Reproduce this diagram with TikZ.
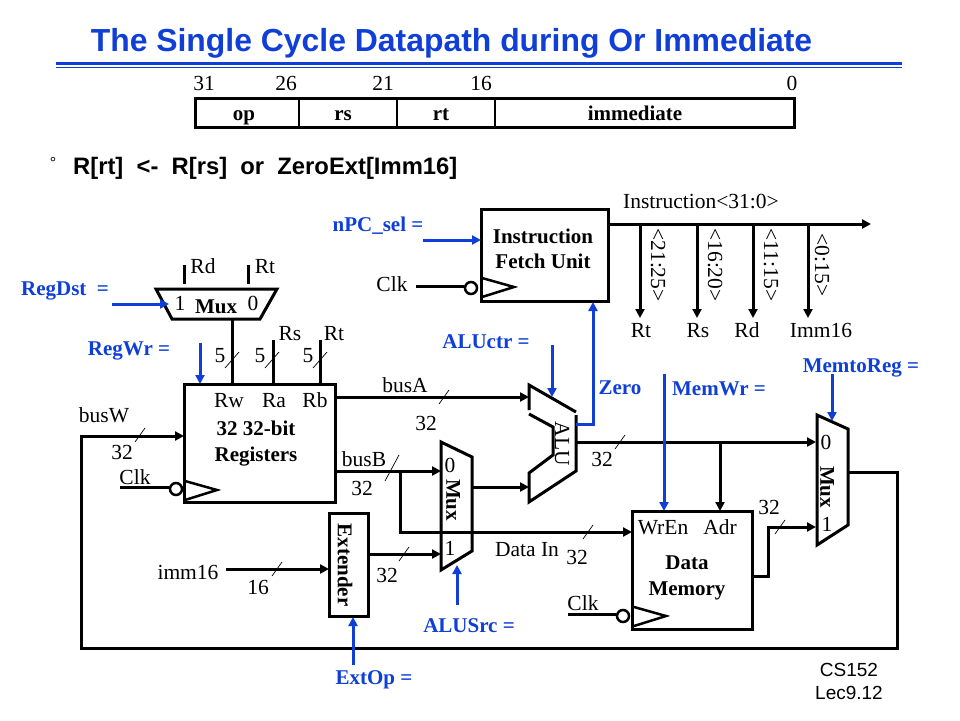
\documentclass[tikz,border=0pt]{standalone}
\usepackage{fontspec}
\setmainfont{Liberation Serif}
\newfontfamily\arialfont{Liberation Sans}
\usetikzlibrary{arrows.meta}
\definecolor{ctrlblue}{HTML}{0F3FD6}
\tikzset{
  lab/.style={font=\fontsize{21.5}{25}\selectfont,inner sep=0pt,text height=18pt,text depth=4pt},
  blab/.style={font=\fontsize{21}{25.5}\selectfont\bfseries,inner sep=0pt,align=center},
  ctrl/.style={blab,text=ctrlblue,text height=18pt,text depth=4pt},
  unitbox/.style={draw,line width=3pt,inner sep=0pt},
  wire/.style={line width=3pt},
  wirearrow/.style={wire,-{Triangle[length=9pt,width=9pt]}},
  ctrlarrow/.style={wire,ctrlblue,-{Triangle[length=9pt,width=9pt]}},
  bubble/.style={circle,draw,line width=2.5pt,minimum size=12pt,inner sep=0pt},
  sideway/.style={rotate=-90}
}
\begin{document}
\begin{tikzpicture}[x=1pt,y=-1pt]
  \useasboundingbox (0,0) rectangle (960,720);
  % heading
  \node[font=\arialfont\bfseries\fontsize{31.9}{34}\selectfont,text=ctrlblue,inner sep=0pt] (title) at (451.5,43.5) {The Single Cycle Datapath during Or Immediate};
  \coordinate (ruleL) at (56,63.5);
  \coordinate (ruleR) at (902,63.5);
  \coordinate (rule2L) at (56,67);
  \coordinate (rule2R) at (902,67);
  \draw[ctrlblue,line width=2.5pt] (ruleL) -- (ruleR);
  \draw[ctrlblue,line width=0.9pt] (rule2L) -- (rule2R);
  % instruction format
  \foreach \nm/\xx/\bits in {b31/204/31,b26/286/26,b21/383/21,b16/481/16,b0/792/0}{
    \node[lab] (\nm) at (\xx,83) {\bits};
  }
  \node[draw,line width=3pt,minimum width=599pt,minimum height=29pt,inner sep=0pt,outer sep=0pt] (format) at (494.5,112.5) {};
  \foreach \nm/\xx/\fld in {fop/244/op,frs/343/rs,frt/441/rt,fimm/635/immediate}{
    \node[blab,anchor=base] (\nm) at (\xx,120.5) {\fld};
  }
  \foreach \nm/\xx in {div1/299,div2/397,div3/495}{
    \coordinate (\nm) at (\xx,97);
    \draw[line width=1.5pt] (\nm) -- ++(0,30);
  }
  % operation line
  \node[font=\arialfont\fontsize{16}{18}\selectfont,inner sep=0pt] (bullet) at (53,163) {°};
  \node[font=\arialfont\bfseries\fontsize{23.8}{26}\selectfont,inner sep=0pt,anchor=west] (oper) at (73,168.5) {R[rt]\ \ <-\ \ R[rs]\ \ or\ \ ZeroExt[Imm16]};
  % units
  \node[unitbox,minimum width=127pt,minimum height=92pt] (fetch) at (544.5,255.5) {};
  \node[blab] (fetchtxt) at (543,249) {Instruction\\Fetch Unit};
  \node[unitbox,minimum width=151pt,minimum height=118pt] (regs) at (259.5,443) {};
  \node[unitbox,minimum width=39pt,minimum height=103pt] (ext) at (348.5,564.5) {};
  \node[blab,sideway] (exttxt) at (345,565) {Extender};
  \node[unitbox,minimum width=120pt,minimum height=118pt] (dmem) at (692,570) {};
  \node[blab] (dmemtxt) at (687,578) {Data\\Memory};
  \node[blab] (regtxt) at (256,443.5) {32 32-bit\\Registers};
  % muxes and alu
  \draw[wire,line join=miter] (156,289) -- (277,289) -- (260,319) -- (172,319) -- cycle;
  \draw[wire] (441,442) -- (472,457) -- (472,551) -- (441,570) -- cycle;
  \draw[wire] (817,415) -- (848,429) -- (848,525) -- (817,545) -- cycle;
  \draw[wire] (529,410) -- (529,385) -- (576,412);
  \draw[wire] (576,415) -- (576,471) -- (529,502) -- (529,473) -- (553,455) -- (553,427) -- (529,414);
  \node[lab,sideway] (alutxt) at (562,444) {ALU};
  \node[blab,sideway] (muxa) at (453,500) {Mux};
  \node[blab,sideway] (muxm) at (827,487) {Mux};
  \node[blab] (muxr) at (216,307) {Mux};
  % clock pins
  \foreach \nm/\xx/\yy/\bx/\by/\sx/\sy in {ifclk/482/278/471/288/416/286,rgclk/185/481/176/489/120/487,dmclk/634/607/623/616/568/614}{
    \node[bubble] (\nm) at (\bx,\by) {};
    \coordinate (\nm in) at (\sx,\sy);
    \draw[wire] (\nm in) -- (\nm in -| \nm.west);
    \draw[line width=2.5pt] (\xx,\yy) -- ++(32,9) -- ++(-32,10);
  }
  % plain labels
  \foreach \nm/\xx/\yy/\txt in {
    lrd/203/266/Rd,lrt/265/266/Rt,lrs2/290/333/Rs,lrt2/334/333/Rt,m1/180/303/1,m0/253/303/0,
    f5a/220/355/5,f5b/260/355/5,f5c/308/355/5,lrw/229/400/Rw,lra/274/400/Ra,lrb/315/400/Rb,
    lbusw/104/415/busW,lw32/122/452/32,lck1/135/477/Clk,lbusa/405/385/busA,la32/426/423/32,
    lbusb/364/459/busB,lb32/362/488/32,a0/450/465/0,a1/450/548/1,lim/188/572/imm16,l16/258/587/16,
    le32/387/575/32,ldin/527/549/Data In,ld32/577/557/32,lck2/392/284/Clk,lck3/583/603/Clk,
    lal32/602/459/32,lwren/663/527/WrEn,ladr/720/527/Adr,lm32/769/507/32,q0/826/442/0,q1/827/524/1,
    linstr/701/201/Instruction<31:0>,lirt/641/330/Rt,lirs/698/330/Rs,lird/747/330/Rd,liim/821/330/Imm16}{
    \node[lab] (\nm) at (\xx,\yy) {\txt};
  }
  \foreach \nm/\xx/\txt in {s1/658/<21:25>,s2/715/<16:20>,s3/771/<11:15>,s4/822/<0:15>}{
    \node[lab,sideway] (\nm) at (\xx,265) {\txt};
  }
  % control labels
  \foreach \nm/\xx/\yy/\txt in {
    cdst/65/288/RegDst\ \ =,cwr/129/348/RegWr =,cnpc/378/224/nPC\_sel =,calu/486/341/ALUctr =,
    czero/620/387/Zero,cmw/719/388/MemWr =,cm2r/861/365/MemtoReg =,csrc/469/625/ALUSrc =,cext/374/677/ExtOp =}{
    \node[ctrl] (\nm) at (\xx,\yy) {\txt};
  }
  % ports
  \foreach \nm/\xx/\yy in {
    prd/184/265,prt/248/265,pmo/232/319,prw/232/384,pra0/273/340,pra/273/384,
    prb0/320/340,prb/320/384,pwl/81/436,pwr/184/436,pbot1/81/648,pbot2/897/648,pfb/897/472,pmq/848/472,
    paL/335/397,paR/529/397,pbL/335/471,pbR/441/471,pbj/400/471,pdc/400/532,pdR/632/532,
    pmaL/473/487,pmaR/529/487,pimL/226/569,pimR/329/569,peL/370/554,peR/441/554,
    paluo/576/442,pmq0/816/442,pj/720/442,padr/720/511,pdo/752/576,pdm/768/576,pdt/768/527,pq1/816/527,
    pif/608/224,pifR/871/224,pi1/640/224,pi2/697/224,pi3/753/224,pi4/808/224,pe1/640/318,pe2/697/318,pe3/753/318,pe4/808/318,
    cd0/112/304,cd1/169/304,cw0/200/343,cw1/200/384,cn0/423/240,cn1/481/240,cu0/552/345,cu1/552/397,
    cz0/576/424,cz1/593/424,cz2/593/302,cm0/664/374,cm1/664/511,cr0/832/374,cr1/832/421,
    cs0/457/605,cs1/457/565,ce0/353/665,ce1/353/617}{
    \coordinate (\nm) at (\xx,\yy);
  }
  % data paths
  \draw[wire] (prd) -- ++(0,19);
  \draw[wire] (prt) -- ++(0,19);
  \draw[wire] (pmo) -- (prw);
  \draw[wire] (pra0) -- (pra);
  \draw[wire] (prb0) -- (prb);
  \draw[wirearrow] (pmq) -- (pfb) -- (pbot2) -- (pbot1) -- (pwl) -- (pwr);
  \draw[wirearrow] (paL) -- (paR);
  \draw[wirearrow] (pbL) -- (pbR);
  \draw[wirearrow] (pbj) -- (pdc) -- (pdR);
  \draw[wirearrow] (pmaL) -- (pmaR);
  \draw[wirearrow] (pimL) -- (pimR);
  \draw[wirearrow] (peL) -- (peR);
  \draw[wirearrow] (paluo) -- (pmq0);
  \draw[wirearrow] (pj) -- (padr);
  \draw[wirearrow] (pdo) -- (pdm) -- (pdt) -- (pq1);
  \draw[wirearrow] (pif) -- (pifR);
  \foreach \i in {1,2,3,4}{
    \draw[wirearrow] (pi\i) -- (pe\i);
  }
  % control lines
  \draw[ctrlarrow] (cd0) -- (cd1);
  \draw[ctrlarrow] (cw0) -- (cw1);
  \draw[ctrlarrow] (cn0) -- (cn1);
  \draw[ctrlarrow] (cu0) -- (cu1);
  \draw[ctrlarrow] (cz0) -- (cz1) -- (cz2);
  \draw[ctrlarrow] (cm0) -- (cm1);
  \draw[ctrlarrow] (cr0) -- (cr1);
  \draw[ctrlarrow] (cs0) -- (cs1);
  \draw[ctrlarrow] (ce0) -- (ce1);
  % width slashes
  \foreach \xx/\yy/\dx/\dy in {232/360/7/8,272/360/7/8,320/360/7/8,140/435/5/7,444/397/5/7,392/468/7/13,
    277/569/5/7,404/554/5/7,620/442/5/7,588/532/5/7,780/527/5/7}{
    \draw[line width=0.7pt] (\xx-\dx,\yy+\dy) -- (\xx+\dx,\yy-\dy);
  }
  % page mark
  \node[font=\arialfont\fontsize{19}{23}\selectfont,inner sep=0pt,align=center] (page) at (849,681.5) {CS152\\Lec9.12};
\end{tikzpicture}
\end{document}
